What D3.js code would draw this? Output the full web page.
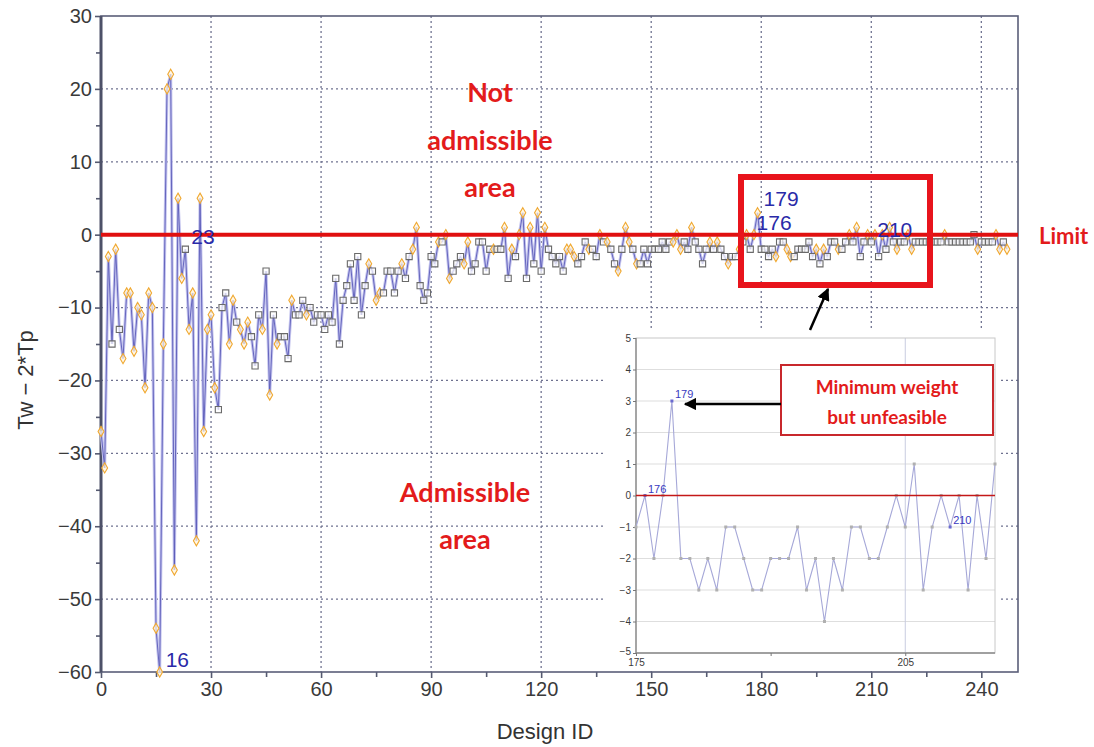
<!DOCTYPE html>
<html>
<head>
<meta charset="utf-8">
<script src="https://cdn.jsdelivr.net/npm/d3@7"></script>
<style>
  body { margin: 0; background: #fff; }
  svg { display: block; }
  .tick text { font-family: Arial, "Liberation Sans", sans-serif; fill: #3a3a3a; }
</style>
</head>
<body>
<svg id="chart" width="1094" height="747"></svg>
<script>
// Tw - 2*Tp value for each design ID (index = design ID)
const designValues = [
  -27, -32, -3, -15, -2, -13, -17, -8, -8, -16,
  -10, -11, -21, -8, -10, -54, -60, -15, 20, 22,
  -46, 5, -6, -2, -13, -8, -42, 5, -27, -13,
  -11, -21, -24, -10, -8, -15, -9, -12, -13, -15,
  -12, -14, -18, -11, -13, -5, -22, -11, -15, -14,
  -14, -17, -9, -11, -11, -9, -11, -10, -12, -11,
  -11, -13, -11, -12, -6, -15, -9, -7, -4, -9,
  -3, -11, -7, -4, -5, -9, -8, -8, -5, -5,
  -8, -5, -4, -6, -3, -2, 1, -7, -9, -8,
  -3, -4, -1, -1, 0, -6, -5, -4, -3, -4,
  -1, -5, -4, -1, -1, -5, -2, -2, -2, -2,
  1, -6, -2, -3, 0, 3, -6, 1, -4, 3,
  -5, 1, -2, -3, -4, -3, -5, -2, -2, -3,
  -4, -3, -1, -2, -2, -3, 0, -1, -1, -2,
  -4, -5, -2, 1, -1, -2, -4, -4, -2, -4,
  -2, -2, -2, -1, -2, -1, -1, 0, -2, -1,
  -2, 1, -1, -2, -4, -2, -1, -2, -1, -2,
  -3, -4, -3, -3, -2, -1, 0, -2, 0, 3,
  -2, -2, -3, -2, -3, -1, -1, -2, -3, -3,
  -2, -2, -2, -1, -3, -2, -4, -2, -3, -1,
  -1, -2, -2, -1, 0, -1, 1, -3, -1, 0,
  -1, 0, -3, 0, -2, 1, -1, -2, -1, -1,
  0, -2, -1, -1, -1, -1, -1, -1, -1, -1,
  0, -1, -1, -1, -1, -1, -1, -1, 0, -2,
  -1, -1, -1, -1, 0, -2, -1, -2
];

// marker per design: d = orange diamond, s = grey square (rows of 10)
const markerKinds = [
  "dddsdsdddd", "dddddddddd", "dddsdddddd", "ddsssddsdd", "dsssdsdsds",
  "ssdsssdsss", "ssssssssss", "sssdsddsss", "ssdssddsss", "ssdsddsssd",
  "dssssssdss", "dsdsddsdsd", "sdsssssddd", "sssdssdsds", "sdsddsdsss",
  "ssssssddds", "sdssssdsds", "sdssdsdsdd", "ssssdssdds", "sssssdsdss",
  "sdssdsdssd", "sdsdsdsdss", "ddssssssss", "dssssssssd", "ssssddsd"
].join("").split("");

const labelledIds = [16, 23, 176, 179, 210];
const xTicks = [0, 30, 60, 90, 120, 150, 180, 210, 240];
const yTicks = [-60, -50, -40, -30, -20, -10, 0, 10, 20, 30];

const insetRange = [175, 215];
const insetXTicks = [175, 205];
const insetYTicks = [-5, -4, -3, -2, -1, 0, 1, 2, 3, 4, 5];
const insetLabelledIds = [176, 179, 210];

const points = designValues.map((v, i) => ({ id: i, value: v, kind: markerKinds[i] || "s" }));

const svg = d3.select("#chart");

const x = d3.scaleLinear().domain([0, 250]).range([101, 1018]);
const y = d3.scaleLinear().domain([-60, 30]).range([672, 16]);

// grid
const grid = svg.append("g").attr("class", "grid");
grid.selectAll("line.gx")
  .data(xTicks.slice(1))
  .enter()
  .append("line")
  .attr("x1", (d) => x(d)).attr("x2", (d) => x(d))
  .attr("y1", y(30)).attr("y2", y(-60))
  .attr("stroke", "#6f7290").attr("stroke-width", 1.3)
  .attr("stroke-dasharray", "2,3");
grid.selectAll("line.gy")
  .data(yTicks.slice(1, -1))
  .enter()
  .append("line")
  .attr("x1", x(0)).attr("x2", x(250))
  .attr("y1", (d) => y(d)).attr("y2", (d) => y(d))
  .attr("stroke", "#6f7290").attr("stroke-width", 1.3)
  .attr("stroke-dasharray", "2,3");

// axes
const xAxis = svg.append("g")
  .attr("transform", `translate(0,${y(-60)})`)
  .call(d3.axisBottom(x).tickValues(xTicks).tickSize(6).tickPadding(4));
svg.append("g")
  .attr("transform", `translate(0,${y(-60)})`)
  .call(d3.axisBottom(x).tickValues(d3.range(15, 250, 30)).tickSize(5).tickFormat(""));
const yAxis = svg.append("g")
  .attr("transform", `translate(${x(0)},0)`)
  .call(d3.axisLeft(y).tickValues(yTicks).tickSize(6).tickPadding(3));
svg.append("g")
  .attr("transform", `translate(${x(0)},0)`)
  .call(d3.axisLeft(y).tickValues(d3.range(-55, 30, 10)).tickSize(5).tickFormat(""));

svg.selectAll(".domain").remove();
svg.selectAll(".tick line").attr("stroke", "#555a70").attr("stroke-width", 1.6);
xAxis.selectAll("text").attr("font-size", 20);
yAxis.selectAll("text").attr("font-size", 20);

svg.append("rect")
  .attr("x", x(0)).attr("y", y(30))
  .attr("width", x(250) - x(0)).attr("height", y(-60) - y(30))
  .attr("fill", "none").attr("stroke", "#5a5e78").attr("stroke-width", 1.6);
svg.append("line")
  .attr("x1", x(0)).attr("x2", x(0)).attr("y1", y(30)).attr("y2", y(-60))
  .attr("stroke", "#4d5168").attr("stroke-width", 3);

// series
const line = d3.line().x((d) => x(d.id)).y((d) => y(d.value));
svg.append("path")
  .datum(points)
  .attr("d", line)
  .attr("fill", "none")
  .attr("stroke", "#c4c4ee").attr("stroke-width", 3);
svg.append("path")
  .datum(points)
  .attr("d", line)
  .attr("fill", "none")
  .attr("stroke", "#5a5ab8").attr("stroke-width", 0.9);

const marks = svg.append("g");
marks.selectAll("path.m")
  .data(points)
  .enter()
  .append("path")
  .attr("transform", (d) => `translate(${x(d.id)},${y(d.value)})`)
  .attr("d", (d) => d.kind === "d"
    ? d3.symbol(d3.symbolDiamond, 30)()
    : d3.symbol(d3.symbolSquare, 38)())
  .attr("fill", (d) => d.kind === "d" ? "#fff4dc" : "#ffffff")
  .attr("fill-opacity", 0.7)
  .attr("stroke", (d) => d.kind === "d" ? "#f0a830" : "#6a6a6a")
  .attr("stroke-width", 1.1);

// limit line
svg.append("line")
  .attr("x1", x(0)).attr("x2", x(250))
  .attr("y1", y(0)).attr("y2", y(0))
  .attr("stroke", "#e01010").attr("stroke-width", 4);

svg.selectAll("text.pl")
  .data(points.filter((d) => labelledIds.includes(d.id)))
  .enter()
  .append("text")
  .attr("x", (d) => x(d.id) + (d.id === 176 ? 10 : 6))
  .attr("y", (d) => y(d.value) - (d.id === 179 ? 7 : 5))
  .attr("font-family", "Arial, 'Liberation Sans', sans-serif")
  .attr("font-size", 21)
  .attr("fill", "#2a2aa8")
  .text((d) => d.id);

// axis titles
svg.append("text")
  .attr("x", 545).attr("y", 739)
  .attr("text-anchor", "middle")
  .attr("font-family", "Arial, 'Liberation Sans', sans-serif")
  .attr("font-size", 22).attr("fill", "#333")
  .text("Design ID");
svg.append("text")
  .attr("transform", "translate(33,380) rotate(-90)")
  .attr("text-anchor", "middle")
  .attr("font-family", "Arial, 'Liberation Sans', sans-serif")
  .attr("font-size", 22).attr("fill", "#333")
  .text("Tw \u2212 2*Tp");

// annotations
const redText = (lines, cx, ys, size) => {
  lines.forEach((t, i) => {
    svg.append("text")
      .attr("x", cx).attr("y", ys[i])
      .attr("text-anchor", "middle")
      .attr("font-family", "Lato, 'Open Sans', sans-serif")
      .attr("font-weight", "bold")
      .attr("font-size", size)
      .attr("fill", "#e31b1b")
      .text(t);
  });
};
redText(["Not", "admissible", "area"], 490, [102, 150, 197], 27);
redText(["Admissible", "area"], 465, [502, 549], 27);
svg.append("text")
  .attr("x", 1039).attr("y", 244)
  .attr("font-family", "Lato, 'Open Sans', sans-serif")
  .attr("font-weight", "bold").attr("font-size", 22)
  .attr("fill", "#e31b1b")
  .text("Limit");

svg.append("rect")
  .attr("x", 741).attr("y", 177).attr("width", 189).attr("height", 108)
  .attr("fill", "none").attr("stroke", "#e8141c").attr("stroke-width", 6);

// arrow markers
const defs = svg.append("defs");
defs.append("marker")
  .attr("id", "head").attr("viewBox", "0 0 10 10")
  .attr("refX", 9).attr("refY", 5)
  .attr("markerWidth", 5).attr("markerHeight", 5)
  .attr("orient", "auto")
  .append("path").attr("d", "M0,0L10,5L0,10z").attr("fill", "#000");

// inset
const ix = d3.scaleLinear().domain(insetRange).range([636, 995]);
const iy = d3.scaleLinear().domain([-5, 5]).range([653, 338]);
const inset = svg.append("g");
inset.append("rect")
  .attr("x", 604).attr("y", 331).attr("width", 396).attr("height", 337)
  .attr("fill", "#fff");
inset.selectAll("line.hg")
  .data(insetYTicks.slice(1, -1))
  .enter()
  .append("line")
  .attr("x1", ix(175)).attr("x2", ix(215))
  .attr("y1", (d) => iy(d)).attr("y2", (d) => iy(d))
  .attr("stroke", "#dedede").attr("stroke-width", 1.2);
inset.append("line")
  .attr("x1", ix(205)).attr("x2", ix(205))
  .attr("y1", iy(5)).attr("y2", iy(-5))
  .attr("stroke", "#c8cce0").attr("stroke-width", 1);
inset.append("rect")
  .attr("x", ix(175)).attr("y", iy(5))
  .attr("width", ix(215) - ix(175)).attr("height", iy(-5) - iy(5))
  .attr("fill", "none").attr("stroke", "#c8c8c8").attr("stroke-width", 1);
inset.append("line")
  .attr("x1", ix(175)).attr("x2", ix(175)).attr("y1", iy(5)).attr("y2", iy(-5))
  .attr("stroke", "#8a8a8a").attr("stroke-width", 1.4);
inset.append("line")
  .attr("x1", ix(175)).attr("x2", ix(215)).attr("y1", iy(-5)).attr("y2", iy(-5))
  .attr("stroke", "#8a8a8a").attr("stroke-width", 1.4);

const ixAxis = inset.append("g")
  .attr("transform", `translate(0,${iy(-5)})`)
  .call(d3.axisBottom(ix).tickValues(insetXTicks).tickSize(3).tickPadding(3));
inset.append("g")
  .attr("transform", `translate(0,${iy(-5)})`)
  .call(d3.axisBottom(ix).tickValues([190]).tickSize(3).tickFormat(""));
const iyAxis = inset.append("g")
  .attr("transform", `translate(${ix(175)},0)`)
  .call(d3.axisLeft(iy).tickValues(insetYTicks).tickSize(3).tickPadding(2));
inset.selectAll(".domain").remove();
inset.selectAll(".tick line").attr("stroke", "#777").attr("stroke-width", 1);
ixAxis.selectAll("text").attr("font-size", 10).attr("fill", "#666");
iyAxis.selectAll("text").attr("font-size", 10).attr("fill", "#666");
iyAxis.selectAll(".tick").filter((d) => d === -5).select("text").attr("dy", "0.1em");

const insetPts = points.filter((d) => d.id >= insetRange[0] && d.id <= insetRange[1]);
inset.append("path")
  .datum(insetPts)
  .attr("d", d3.line().x((d) => ix(d.id)).y((d) => iy(d.value)))
  .attr("fill", "none")
  .attr("stroke", "#a6a8d8").attr("stroke-width", 1.1);
inset.selectAll("rect.ip")
  .data(insetPts)
  .enter()
  .append("rect")
  .attr("x", (d) => ix(d.id) - 1.5).attr("y", (d) => iy(d.value) - 1.5)
  .attr("width", 3).attr("height", 3)
  .attr("fill", (d) => insetLabelledIds.includes(d.id) ? "#6a6ad0" : "#b0b0b0");
inset.append("line")
  .attr("x1", ix(175)).attr("x2", ix(215))
  .attr("y1", iy(0)).attr("y2", iy(0))
  .attr("stroke", "#c41818").attr("stroke-width", 1.6);
inset.selectAll("text.il")
  .data(insetPts.filter((d) => insetLabelledIds.includes(d.id)))
  .enter()
  .append("text")
  .attr("x", (d) => ix(d.id) + 3)
  .attr("y", (d) => iy(d.value) - 3)
  .attr("font-family", "Arial, 'Liberation Sans', sans-serif")
  .attr("font-size", 11)
  .attr("fill", "#3a3ac0")
  .text((d) => d.id);

// callout
inset.append("rect")
  .attr("x", 781).attr("y", 365).attr("width", 212).attr("height", 70)
  .attr("fill", "#fff").attr("stroke", "#c8282c").attr("stroke-width", 2);
["Minimum weight", "but unfeasible"].forEach((t, i) => {
  inset.append("text")
    .attr("x", 887).attr("y", 394 + i * 30)
    .attr("text-anchor", "middle")
    .attr("font-family", "Lato, 'Open Sans', sans-serif")
    .attr("font-weight", "bold").attr("font-size", 19)
    .attr("fill", "#e31b1b")
    .text(t);
});
inset.append("line")
  .attr("x1", 781).attr("x2", 685).attr("y1", 404).attr("y2", 404)
  .attr("stroke", "#000").attr("stroke-width", 2.5)
  .attr("marker-end", "url(#head)");

svg.append("line")
  .attr("x1", 810).attr("y1", 330).attr("x2", 828).attr("y2", 289)
  .attr("stroke", "#000").attr("stroke-width", 2.5)
  .attr("marker-end", "url(#head)");
</script>
</body>
</html>
